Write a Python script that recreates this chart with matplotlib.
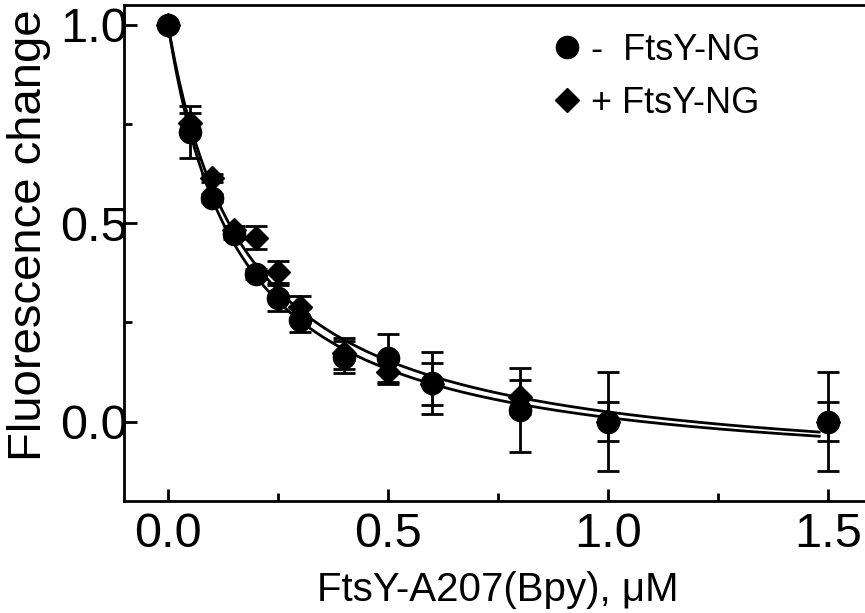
import numpy as np
import matplotlib
matplotlib.use('Agg')
import matplotlib.pyplot as plt
from matplotlib.ticker import MultipleLocator

plt.rcParams['font.family'] = ['Liberation Sans', 'DejaVu Sans']

# concentration, uM
conc = [0.0, 0.05, 0.1, 0.15, 0.2, 0.25, 0.3, 0.4, 0.5, 0.6, 0.8, 1.0, 1.5]

# - FtsY-NG (circles)
minus_y = [1.0, 0.73, 0.563, 0.472, 0.372, 0.312, 0.257, 0.162, 0.160, 0.098, 0.030, 0.0, 0.0]
minus_err = [0.005, 0.066, 0.01, 0.012, 0.012, 0.033, 0.03, 0.04, 0.06, 0.078, 0.106, 0.125, 0.125]

# + FtsY-NG (diamonds)
plus_y = [1.0, 0.752, 0.614, 0.482, 0.463, 0.377, 0.289, 0.172, 0.125, 0.095, 0.063, 0.0, 0.0]
plus_err = [0.005, 0.025, 0.01, 0.012, 0.029, 0.028, 0.028, 0.04, 0.03, 0.053, 0.043, 0.05, 0.05]

# hyperbolic fit parameters: y = y0 - A*x/(K+x)
fit_minus = dict(y0=1.0, A=1.151, K=0.163)
fit_plus = dict(y0=1.0, A=1.151, K=0.180)


def hyperbola(x, y0, A, K):
    return y0 - A * x / (K + x)


fig = plt.figure(figsize=(8.65, 6.13), dpi=100)
ax = fig.add_axes([0.1434, 0.1827, 0.8647, 0.8091])

xx = np.linspace(0, 1.48, 300)
for p in (fit_minus, fit_plus):
    ax.plot(xx, hyperbola(xx, **p), color='black', lw=2.0, zorder=2)

ax.errorbar(conc, minus_y, yerr=minus_err, fmt='none', ecolor='black',
            elinewidth=2, capsize=8, capthick=2, zorder=3)
ax.errorbar(conc, plus_y, yerr=plus_err, fmt='none', ecolor='black',
            elinewidth=2, capsize=8, capthick=2, zorder=3)

ax.plot(conc, minus_y, 'o', color='black', ms=16, zorder=4, label='-  FtsY-NG')
ax.plot(conc, plus_y, 'D', color='black', ms=12.5, zorder=5, label='+ FtsY-NG')

ax.set_xlim(-0.1, 1.6)
ax.set_ylim(-0.2, 1.05)
ax.xaxis.set_major_locator(MultipleLocator(0.5))
ax.xaxis.set_minor_locator(MultipleLocator(0.25))
ax.yaxis.set_major_locator(MultipleLocator(0.5))
ax.yaxis.set_minor_locator(MultipleLocator(0.25))
ax.set_xticks([0.0, 0.5, 1.0, 1.5])
ax.set_xticklabels(['0.0', '0.5', '1.0', '1.5'])
ax.set_yticks([0.0, 0.5, 1.0])
ax.set_yticklabels(['0.0', '0.5', '1.0'])

ax.tick_params(which='both', direction='in', width=2, labelsize=35)
ax.tick_params(which='major', length=9)
ax.tick_params(axis='x', which='major', pad=8)
ax.tick_params(axis='y', which='major', pad=-3)
ax.tick_params(which='minor', length=6)
ax.tick_params(top=False, right=False)
for s in ax.spines.values():
    s.set_linewidth(2)

ax.set_xlabel('FtsY-A207(Bpy), μM', fontsize=29, labelpad=10)
ax.set_ylabel('Fluorescence change', fontsize=34)
ax.yaxis.set_label_coords(-0.097, 0.535)

fig.legend(loc='upper left', bbox_to_anchor=(0.612, 0.97), frameon=False,
           fontsize=26, handletextpad=0.0, labelspacing=0.5, handlelength=1.3,
           borderaxespad=0)

fig.savefig('out.png', dpi=100)
